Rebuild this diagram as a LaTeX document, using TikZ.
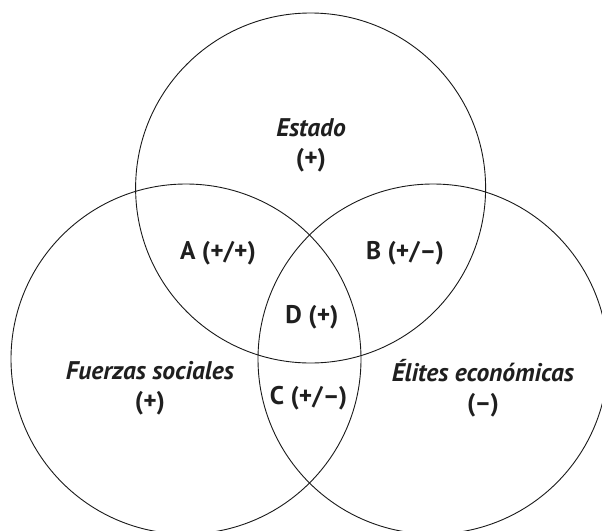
\documentclass[tikz,border=0pt]{standalone}
\usepackage{fontspec}
\setmainfont{PT Sans}
\begin{document}
\begin{tikzpicture}[x=1pt,y=-1pt,
  setcircle/.style={circle,draw=black!90,line width=0.9pt,minimum size=350pt,inner sep=0pt},
  lbl/.style={text=black!88,font=\fontsize{25.5}{30}\selectfont\bfseries,align=center,inner sep=0pt}]
\useasboundingbox (0,0) rectangle (602,530);
\clip (0,0) rectangle (602,530);
\node[setcircle] (estado) at (310.6,188) {};
\node[setcircle] (fuerzas) at (186,359) {};
\node[setcircle] (elites) at (433,359) {};
\node[lbl] (testado) at (311,145) {\textit{Estado}\\(+)};
\node[lbl] (tfuerzas) at (150,388) {\textit{Fuerzas sociales}\\(+)};
\node[lbl] (telites) at (483,388) {\textit{Élites económicas}\\(–)};
\node[lbl] (ta) at (218,253) {A (+/+)};
\node[lbl] (tb) at (405,253) {B (+/–)};
\node[lbl] (td) at (312,317) {D (+)};
\node[lbl] (tc) at (308.5,398) {C (+/–)};
\end{tikzpicture}
\end{document}
